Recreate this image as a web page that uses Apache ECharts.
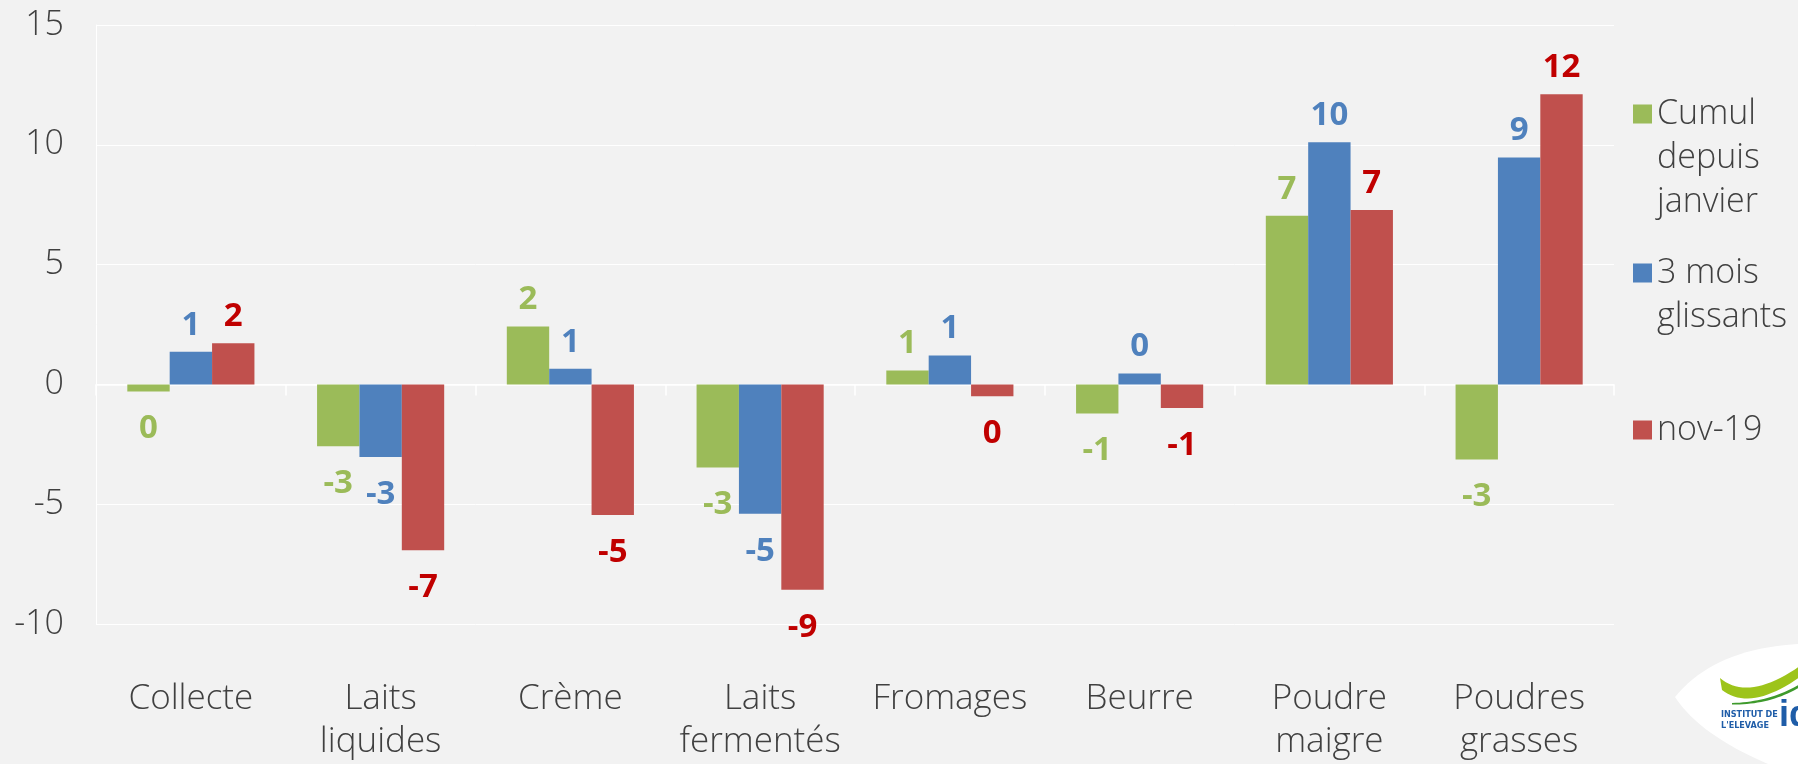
<!DOCTYPE html>
<html><head><meta charset="utf-8">
<script src="https://cdn.jsdelivr.net/npm/echarts@6/dist/echarts.min.js"></script>
<style>html,body{margin:0;padding:0;background:#F2F2F2}#c{width:1798px;height:764px}</style>
</head><body><div id="c"></div>
<script>
const categories = ['Collecte', 'Laits\nliquides', 'Crème', 'Laits\nfermentés', 'Fromages', 'Beurre', 'Poudre\nmaigre', 'Poudres\ngrasses'];
const seriesNames = ['Cumul depuis janvier', '3 mois glissants', 'nov-19'];
const legendLabels = ['Cumul\ndepuis\njanvier', '3 mois\nglissants', 'nov-19'];
const cumulJanvier = [-0.30, -2.58, 2.42, -3.47, 0.58, -1.21, 7.04, -3.13];
const troisMois = [1.36, -3.03, 0.65, -5.40, 1.21, 0.46, 10.11, 9.47];
const nov19 = [1.72, -6.92, -5.45, -8.57, -0.49, -0.99, 7.28, 12.11];
const yMin = -10, yMax = 15, yStep = 5;

const barColors = ['#9BBB59', '#4F81BD', '#C0504D'];
const labelColors = ['#9BBB59', '#4F81BD', '#C00000'];
const FONT = 'Open Sans';
const TXT = '#404040';

function items(vals) {
  return vals.map(v => ({
    value: v,
    label: v >= 0 ? { position: 'top', distance: 10 } : { position: 'bottom', distance: 21 }
  }));
}
function mkSeries(name, vals, i) {
  return {
    name: name, type: 'bar', xAxisIndex: 0,
    barGap: '0%', barCategoryGap: '33%',
    itemStyle: { color: barColors[i] },
    label: {
      show: true, color: labelColors[i], fontFamily: FONT, fontWeight: 'bold', fontSize: 33,
      formatter: p => String(Math.round(p.value))
    },
    emphasis: { disabled: true },
    data: items(vals)
  };
}
// legend text is centred on its marker: leading blank lines put the marker beside the first line
function mkLegend(i, top) {
  const lines = legendLabels[i].split('\n').length;
  const text = '\n'.repeat(lines - 1) + legendLabels[i];
  return {
    orient: 'vertical', left: 1633, top: top, padding: 0,
    data: [seriesNames[i]], icon: 'rect', itemWidth: 19, itemHeight: 19,
    selectedMode: false,
    formatter: () => text,
    textStyle: { fontFamily: FONT, fontWeight: 300, fontSize: 34, lineHeight: 44, color: TXT }
  };
}
// decorative logo outline helper (quadratic curve sampling)
function quad(p0, c, p1, n) {
  const pts = [];
  for (let k = 0; k <= n; k++) {
    const t = k / n, u = 1 - t;
    pts.push([u * u * p0[0] + 2 * u * t * c[0] + t * t * p1[0], u * u * p0[1] + 2 * u * t * c[1] + t * t * p1[1]]);
  }
  return pts;
}
const leafPts = [].concat(quad([1675, 697], [1715, 648], [1800, 644], 20), [[1800, 764], [1768, 764]], quad([1768, 764], [1700, 735], [1675, 697], 20));
const swooshPts = [].concat(quad([1720, 678], [1748, 702], [1800, 666], 20), quad([1800, 677], [1750, 712], [1722, 690], 20));
const linePts = [].concat(quad([1732, 703], [1770, 702], [1800, 684], 20), quad([1800, 687], [1770, 705], [1732, 704.5], 20));

const chart = echarts.init(document.getElementById('c'), null, { renderer: 'canvas' });
chart.setOption({
  backgroundColor: '#F2F2F2',
  animation: false,
  grid: { left: 96, right: 184, top: 25, bottom: 138, containLabel: false },
  legend: [mkLegend(0, 4), mkLegend(1, 207), mkLegend(2, 408)],
  xAxis: [{
    type: 'category', data: categories, position: 'bottom',
    axisLine: { show: false, onZero: false }, axisTick: { show: false },
    axisLabel: { interval: 0, fontFamily: FONT, fontWeight: 300, fontSize: 35, lineHeight: 43, color: TXT, margin: 54 }
  }, {
    type: 'category', data: categories, position: 'top',
    axisLine: { show: true, onZero: true, lineStyle: { color: '#FFFFFF', width: 1.5 } },
    axisTick: { show: true, inside: true, length: 11, interval: 0, lineStyle: { color: '#FFFFFF', width: 1.5 } },
    axisLabel: { show: false }, splitLine: { show: false }
  }],
  yAxis: {
    type: 'value', min: yMin, max: yMax, interval: yStep,
    axisLine: { show: true, lineStyle: { color: '#FFFFFF', width: 1 } },
    axisTick: { show: false },
    axisLabel: { fontFamily: FONT, fontWeight: 300, fontSize: 34, color: TXT, margin: 32 },
    splitLine: { show: true, lineStyle: { color: '#FFFFFF', width: 1 } }
  },
  series: [mkSeries(seriesNames[0], cumulJanvier, 0), mkSeries(seriesNames[1], troisMois, 1), mkSeries(seriesNames[2], nov19, 2)],
  graphic: [
    { type: 'polygon', silent: true, shape: { points: leafPts }, style: { fill: '#FFFFFF' } },
    { type: 'polygon', silent: true, shape: { points: swooshPts }, style: { fill: '#9DC41A' } },
    { type: 'polygon', silent: true, shape: { points: linePts }, style: { fill: '#3E9A2C' } },
    { type: 'text', silent: true, x: 1721, y: 709, style: { text: "INSTITUT DE\nL'ELEVAGE", font: 'bold 9px "DejaVu Sans Condensed", "Liberation Sans Narrow", sans-serif', lineHeight: 11, fill: '#1F5DA8' } },
    { type: 'text', silent: true, x: 1779, y: 698, style: { text: 'id', font: 'bold 36px "Liberation Sans", sans-serif', fill: '#1F5DA8' } }
  ]
});
</script></body></html>
